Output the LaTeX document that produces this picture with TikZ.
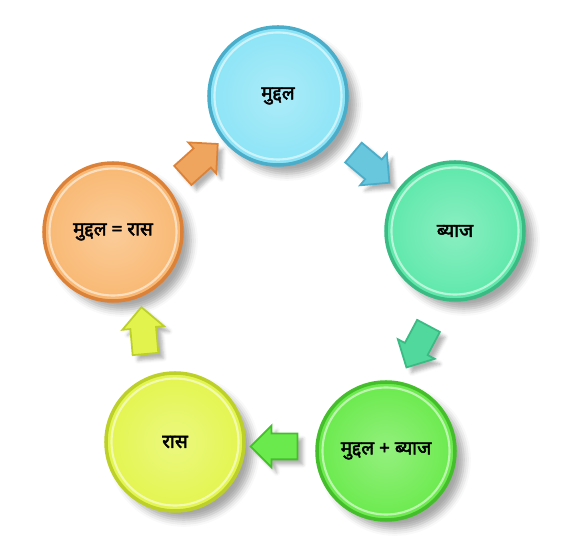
\documentclass[tikz,border=0pt]{standalone}
\usepackage{fontspec}
\newfontfamily\nepali[Script=Devanagari, FakeBold=2.5]{Noto Sans}
\usetikzlibrary{calc}
\usetikzlibrary{shapes.arrows}
\usetikzlibrary{shadows.blur}

\definecolor{coreblue}{HTML}{8CE4F6}
\definecolor{rimblue}{HTML}{4AADC9}
\definecolor{coreteal}{HTML}{5EE8AA}
\definecolor{rimteal}{HTML}{3ABB84}
\definecolor{coregreen}{HTML}{6AEA4C}
\definecolor{rimgreen}{HTML}{45BE2C}
\definecolor{coreyellow}{HTML}{E3F54E}
\definecolor{rimyellow}{HTML}{BDD02A}
\definecolor{coreorange}{HTML}{F9B872}
\definecolor{rimorange}{HTML}{DC8238}

\begin{document}
\begin{tikzpicture}[
		stage/.style 2 args={circle, minimum size=1.38cm, inner sep=0pt,
			shading=radial, inner color=#1!72!white, outer color=#1,
			draw=#2, line width=1pt,
			blur shadow={shadow xshift=2.5pt, shadow yshift=-2.5pt, shadow blur radius=2pt, shadow opacity=35},
			font=\nepali\fontsize{5.4}{6}\selectfont},
		turn/.style 2 args={single arrow, single arrow head extend=0.08cm,
			minimum height=0.47cm, inner sep=0.12cm, fill=#1, draw=#2, line width=.5pt,
			blur shadow={shadow xshift=1.5pt, shadow yshift=-1.5pt, shadow blur radius=1pt, shadow opacity=30}},
		ring/.style={white, opacity=.55, line width=.6pt}
	]
		\useasboundingbox (0,0) rectangle (5.74,5.54);
		\node[stage={coreblue}{rimblue}] (mul) at (2.78,4.58) {मुद्दल};
		\node[stage={coreteal}{rimteal}] (byaj) at (4.55,3.23) {ब्याज};
		\node[stage={coregreen}{rimgreen}] (jod) at (3.86,1.03) {मुद्दल + ब्याज};
		\node[stage={coreyellow}{rimyellow}] (ras) at (1.75,1.12) {रास};
		\node[stage={coreorange}{rimorange}] (barabar) at (1.13,3.22) {मुद्दल = रास};
		\foreach \n in {mul,byaj,jod,ras,barabar}
			\draw[ring] (\n) circle[radius=0.635];
		\node[turn={rimblue!55!coreblue}{rimblue}, rotate=-40] (a1) at ($(mul)!0.5!(byaj)$) {};
		\node[turn={rimteal!35!coreteal}{rimteal}, rotate=-118] (a2) at ($(byaj)!0.5!(jod)$) {};
		\node[turn={coregreen}{rimgreen}, rotate=180] (a3) at ($(jod)!0.5!(ras)$) {};
		\node[turn={coreyellow!95!rimyellow}{rimyellow}, rotate=95] (a4) at ($(ras)!0.5!(barabar)$) {};
		\node[turn={rimorange!35!coreorange}{rimorange}, rotate=42] (a5) at ($(barabar)!0.5!(mul)$) {};
	\end{tikzpicture}
\end{document}
